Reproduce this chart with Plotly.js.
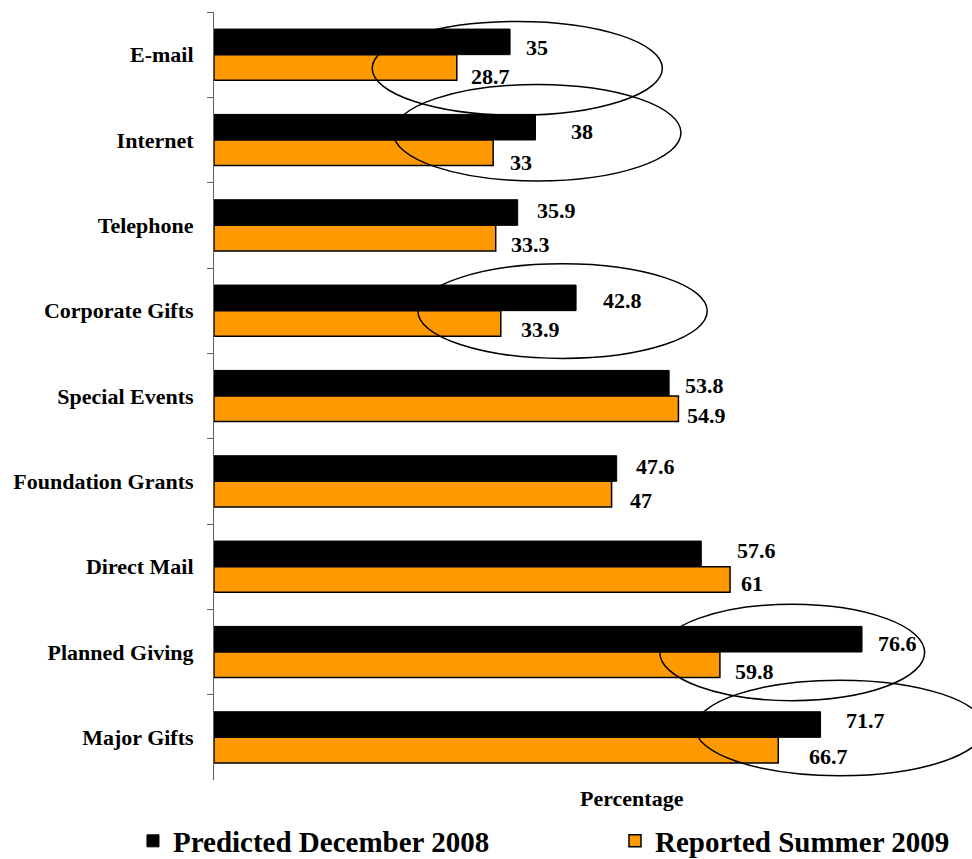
<!DOCTYPE html>
<html>
<head>
<meta charset="utf-8">
<script src="https://cdn.plot.ly/plotly-3.0.1.min.js"></script>
<style>html,body{margin:0;padding:0;background:#fff;}#chart{width:972px;height:859px;}</style>
</head>
<body>
<div id="chart"></div>
<script>
// ---- data ----
var categories = ['E-mail', 'Internet', 'Telephone', 'Corporate Gifts', 'Special Events',
                  'Foundation Grants', 'Direct Mail', 'Planned Giving', 'Major Gifts'];
var predicted = [35, 38, 35.9, 42.8, 53.8, 47.6, 57.6, 76.6, 71.7];
var reported  = [28.7, 33, 33.3, 33.9, 54.9, 47, 61, 59.8, 66.7];
var seriesNames = ['Predicted December 2008', 'Reported Summer 2009'];

// label offsets (px) as placed in the original
var predDx = [15, 35, 18, 26, 15, 18, 35, 15, 24];
var predDy = [-7, -9, -15, -10, -11, -15, -16, -9, -17];
var repDx  = [13, 16, 14, 19, 8, 17, 10, 14, 30];
var repDy  = [22, 22, 19, 19, 19, 19, 17, 19, 19];

// highlight ellipses (x in %, y in category index)
var ellX0 = [18.7, 21.2, 24.1, 52.7, 56.9];
var ellX1 = [53.0, 55.2, 58.3, 84.0, 91.1];
var ellY0 = [-0.39, 0.35, 2.45, 6.44, 7.33];
var ellY1 = [0.71, 1.48, 3.56, 7.57, 8.45];

var FONT = "'Liberation Serif', 'Times New Roman', Times, serif";

var traces = [
  {type: 'bar', orientation: 'h', name: seriesNames[0], y: categories, x: predicted,
   legend: 'legend',
   marker: {color: '#000000', line: {color: '#000000', width: 1}}},
  {type: 'bar', orientation: 'h', name: seriesNames[1], y: categories, x: reported,
   legend: 'legend2',
   marker: {color: '#FF9900', line: {color: '#000000', width: 1.5}}}
];

var annotations = [];
function addLabels(vals, dx, dy) {
  for (var i = 0; i < vals.length; i++) {
    annotations.push({
      x: vals[i], y: categories[i], xref: 'x', yref: 'y',
      text: String(vals[i]), showarrow: false,
      xanchor: 'left', yanchor: 'middle',
      xshift: dx[i] - 1, yshift: -dy[i],
      font: {family: FONT, size: 22, color: '#000', weight: 'bold'}
    });
  }
}
addLabels(predicted, predDx, predDy);
addLabels(reported, repDx, repDy);

annotations.push({
  text: 'Percentage', xref: 'paper', yref: 'paper', x: 0.5515, y: 0,
  xanchor: 'center', yanchor: 'middle', yshift: -18, showarrow: false,
  font: {family: FONT, size: 22, color: '#000', weight: 'bold'}
});

var shapes = [];
for (var k = 0; k < ellX0.length; k++) {
  shapes.push({type: 'circle', xref: 'x', yref: 'y',
    x0: ellX0[k], x1: ellX1[k], y0: ellY0[k], y1: ellY1[k],
    line: {color: '#000', width: 1.5}, fillcolor: 'rgba(0,0,0,0)', layer: 'above'});
}

var legendFont = {family: FONT, size: 29, color: '#000', weight: 'bold'};
var layout = {
  width: 972, height: 859,
  margin: {l: 214, r: 0, t: 12, b: 79, pad: 0, autoexpand: false},
  paper_bgcolor: '#fff', plot_bgcolor: '#fff',
  barmode: 'group', bargap: 0.40, bargroupgap: 0,
  showlegend: true,
  legend: {orientation: 'h', x: -0.1069, y: -0.0794, xanchor: 'left', yanchor: 'middle',
           font: legendFont, bgcolor: 'rgba(0,0,0,0)'},
  legend2: {orientation: 'h', x: 0.529, y: -0.0794, xanchor: 'left', yanchor: 'middle',
           font: legendFont, bgcolor: 'rgba(0,0,0,0)'},
  xaxis: {range: [0, 89.6], showgrid: false, zeroline: false, showticklabels: false,
          showline: false, ticks: ''},
  yaxis: {type: 'category', categoryorder: 'array', categoryarray: categories,
          range: [8.5, -0.5], showgrid: false, zeroline: false,
          showline: true, linecolor: '#606060', linewidth: 1,
          ticks: 'outside', ticklen: 6, tickcolor: '#606060', tickwidth: 1,
          tickson: 'boundaries', ticklabelstandoff: 15,
          tickfont: {family: FONT, size: 22, color: '#000', weight: 'bold'}},
  annotations: annotations,
  shapes: shapes,
  hovermode: false
};

Plotly.newPlot('chart', traces, layout, {staticPlot: true, displayModeBar: false});
</script>
</body>
</html>
